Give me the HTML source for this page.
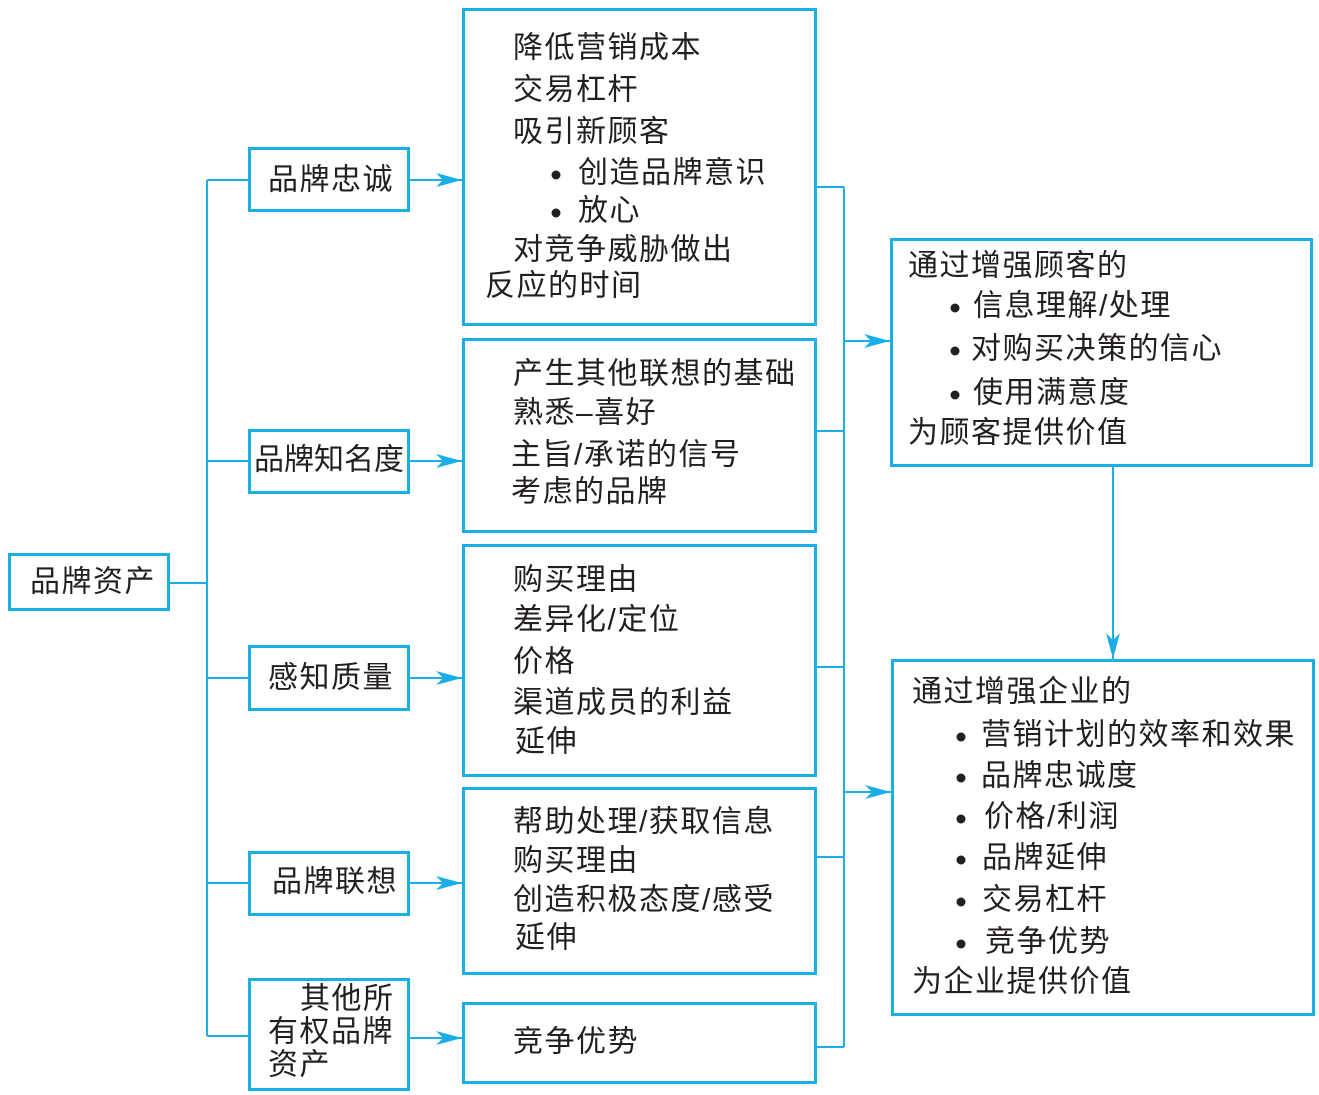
<!DOCTYPE html>
<html><head><meta charset="utf-8"><style>
html,body{margin:0;padding:0;background:#fff;}
svg{display:block;}
text{font-family:"Liberation Sans","Noto Sans CJK SC",sans-serif;font-size:30px;letter-spacing:1.5px;fill:#231f20;dominant-baseline:central;}
.bl{font-size:34px;}
</style></head><body>
<svg width="1319" height="1095" viewBox="0 0 1319 1095" xmlns="http://www.w3.org/2000/svg">
<defs>
<marker id="b" markerWidth="26" markerHeight="14" refX="26" refY="7" orient="auto" markerUnits="userSpaceOnUse"><path d="M0,0 L26,7 L0,14 L7,7Z" fill="#1aaee6"/></marker></defs>
<g fill="none" stroke="#1aaee6" stroke-width="3">
<rect x="9.5" y="554.5" width="159" height="55"/>
<rect x="249.5" y="148.5" width="159" height="62"/>
<rect x="249.5" y="430.5" width="159" height="62"/>
<rect x="249.5" y="646.5" width="159" height="63"/>
<rect x="249.5" y="852.5" width="159" height="62"/>
<rect x="249.5" y="979.5" width="159" height="110"/>
<rect x="463.5" y="9.5" width="352" height="315"/>
<rect x="463.5" y="339.5" width="352" height="192"/>
<rect x="463.5" y="545.5" width="352" height="230"/>
<rect x="463.5" y="788.5" width="352" height="185"/>
<rect x="463.5" y="1003.5" width="352" height="79"/>
<rect x="891.5" y="239.5" width="420" height="226"/>
<rect x="892.5" y="660.5" width="421" height="354"/>
</g>
<g fill="none" stroke="#1aaee6" stroke-width="2">
<path d="M169 583H207M207 180V1036M207 180H249M207 461H249M207 678H249M207 883H249M207 1036H249"/>
<path d="M816 187H844M816 431H844M816 667H844M816 857H844M816 1047H844M844 187V1047"/>
<path d="M409 180H462" marker-end="url(#b)"/>
<path d="M409 461H462" marker-end="url(#b)"/>
<path d="M409 678H462" marker-end="url(#b)"/>
<path d="M409 883H462" marker-end="url(#b)"/>
<path d="M409 1038H462" marker-end="url(#b)"/>
<path d="M844 341H890" marker-end="url(#b)"/>
<path d="M844 792H891" marker-end="url(#b)"/>
<path d="M1113 466V659" marker-end="url(#b)"/>
</g>
<g fill="#231f20">
<circle cx="556" cy="175" r="4.5"/><circle cx="556" cy="213" r="4.5"/>
<circle cx="955" cy="308" r="4.5"/><circle cx="955" cy="351" r="4.5"/><circle cx="955" cy="395" r="4.5"/>
<circle cx="961" cy="737" r="4.5"/><circle cx="961" cy="778" r="4.5"/><circle cx="961" cy="819" r="4.5"/><circle cx="961" cy="860" r="4.5"/><circle cx="961" cy="902" r="4.5"/><circle cx="961" cy="944" r="4.5"/>
</g>
<text x="30" y="582">品牌资产</text>
<text x="268" y="180">品牌忠诚</text>
<text x="254" y="460" style="letter-spacing:0">品牌知名度</text>
<text x="268" y="678">感知质量</text>
<text x="272" y="882">品牌联想</text>
<text x="300" y="999">其他所</text>
<text x="268" y="1032">有权品牌</text>
<text x="268" y="1065">资产</text>

<text x="513" y="48">降低营销成本</text>
<text x="513" y="90">交易杠杆</text>
<text x="513" y="132">吸引新顾客</text>
<text x="578" y="173">创造品牌意识</text>
<text x="578" y="211">放心</text>
<text x="513" y="250">对竞争威胁做出</text>
<text x="485" y="286">反应的时间</text>

<text x="513" y="374">产生其他联想的基础</text>
<text x="513" y="413">熟悉–喜好</text>
<text x="511" y="455">主旨/承诺的信号</text>
<text x="511" y="492">考虑的品牌</text>

<text x="513" y="580">购买理由</text>
<text x="513" y="620">差异化/定位</text>
<text x="513" y="662">价格</text>
<text x="513" y="703">渠道成员的利益</text>
<text x="515" y="742">延伸</text>

<text x="513" y="822">帮助处理/获取信息</text>
<text x="513" y="861">购买理由</text>
<text x="513" y="900">创造积极态度/感受</text>
<text x="515" y="938">延伸</text>

<text x="513" y="1042">竞争优势</text>

<text x="908" y="266">通过增强顾客的</text>
<text x="973" y="306">信息理解/处理</text>
<text x="971" y="349">对购买决策的信心</text>
<text x="973" y="393">使用满意度</text>
<text x="908" y="433">为顾客提供价值</text>

<text x="912" y="692">通过增强企业的</text>
<text x="981" y="735">营销计划的效率和效果</text>
<text x="981" y="776">品牌忠诚度</text>
<text x="984" y="817">价格/利润</text>
<text x="982" y="858">品牌延伸</text>
<text x="982" y="900">交易杠杆</text>
<text x="985" y="942">竞争优势</text>
<text x="912" y="982">为企业提供价值</text>
</svg>
</body></html>
